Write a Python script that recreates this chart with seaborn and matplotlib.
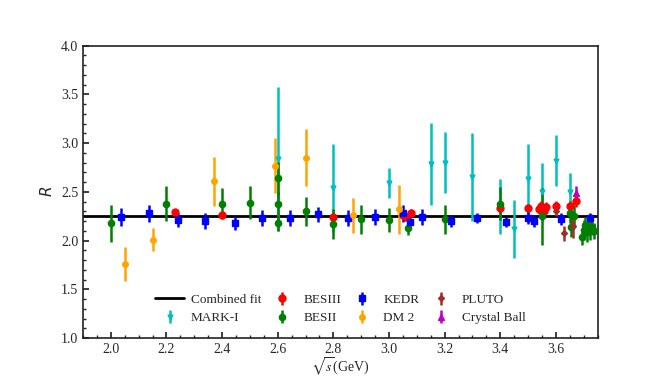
import matplotlib
matplotlib.use("Agg")
import matplotlib.pyplot as plt
from matplotlib.ticker import MultipleLocator
import seaborn as sns

# ── Data ──────────────────────────────────────────────────────────────────────
fit_R = 2.255

markI_x = [2.60, 2.80, 3.00, 3.15, 3.20, 3.30, 3.40, 3.45, 3.50, 3.55, 3.60, 3.65]
markI_y = [2.84, 2.54, 2.59, 2.79, 2.80, 2.65, 2.35, 2.12, 2.63, 2.50, 2.82, 2.50]
markI_e = [0.74, 0.45, 0.15, 0.42, 0.31, 0.45, 0.28, 0.30, 0.36, 0.30, 0.26, 0.19]

besiii_x = [2.232, 2.40, 2.80, 3.05, 3.06, 3.08, 3.40, 3.50, 3.54, 3.548, 3.556, 3.566, 3.60, 3.65, 3.671]
besiii_y = [2.29, 2.26, 2.24, 2.26, 2.24, 2.28, 2.33, 2.33, 2.32, 2.36, 2.30, 2.35, 2.36, 2.36, 2.41]
besiii_e = [0.03, 0.03, 0.03, 0.04, 0.04, 0.04, 0.04, 0.05, 0.05, 0.05, 0.05, 0.05, 0.05, 0.05, 0.06]

besii_x = [2.00, 2.20, 2.40, 2.50, 2.60, 2.60, 2.60, 2.70, 2.80, 2.90, 3.00, 3.07, 3.20,
           3.40, 3.55, 3.65, 3.656, 3.665, 3.694, 3.70, 3.706, 3.712, 3.718, 3.724, 3.73, 3.736]
besii_y = [2.18, 2.38, 2.38, 2.39, 2.64, 2.38, 2.18, 2.30, 2.17, 2.22, 2.21, 2.13, 2.22,
           2.38, 2.25, 2.28, 2.14, 2.25, 2.04, 2.11, 2.16, 2.09, 2.16, 2.11, 2.14, 2.10]
besii_e = [0.19, 0.18, 0.16, 0.17, 0.17, 0.12, 0.08, 0.15, 0.15, 0.15, 0.12, 0.07, 0.15,
           0.17, 0.29, 0.10, 0.10, 0.12, 0.08, 0.10, 0.08, 0.10, 0.08, 0.10, 0.08, 0.08]

kedr_x = [2.037, 2.136, 2.24, 2.34, 2.446, 2.543, 2.645, 2.745, 2.851, 2.949,
          3.05, 3.077, 3.12, 3.224, 3.316, 3.419, 3.50, 3.523, 3.619, 3.721]
kedr_y = [2.245, 2.28, 2.21, 2.20, 2.18, 2.23, 2.23, 2.27, 2.235, 2.24,
          2.28, 2.19, 2.245, 2.20, 2.23, 2.19, 2.23, 2.20, 2.22, 2.23]
kedr_e = [0.09, 0.09, 0.07, 0.08, 0.07, 0.08, 0.08, 0.08, 0.08, 0.08,
          0.085, 0.07, 0.08, 0.06, 0.05, 0.05, 0.06, 0.06, 0.06, 0.05]

dm2_x = [2.05, 2.15, 2.37, 2.59, 2.70, 2.87, 3.036]
dm2_y = [1.76, 2.01, 2.61, 2.77, 2.85, 2.26, 2.32]
dm2_e = [0.17, 0.12, 0.25, 0.28, 0.29, 0.18, 0.25]

pluto_x = [3.60, 3.631, 3.66]
pluto_y = [2.30, 2.075, 2.15]
pluto_e = [0.05, 0.08, 0.12]

cb_x = [3.671]
cb_y = [2.49]
cb_e = [0.07]

# ── Style ─────────────────────────────────────────────────────────────────────
sns.set_theme(style="ticks")
plt.rcParams["font.family"] = ["Liberation Serif", "DejaVu Serif"]
plt.rcParams.update({
    "xtick.direction": "in", "ytick.direction": "in",
    "xtick.major.size": 4, "ytick.major.size": 4,
    "xtick.minor.size": 2.5, "ytick.minor.size": 2.5,
    "xtick.minor.visible": True, "ytick.minor.visible": True,
    "axes.edgecolor": "#222222", "axes.linewidth": 1.2,
})

fig, ax = plt.subplots(figsize=(6.64, 3.8), dpi=100)

fit_line = ax.axhline(fit_R, color="black", linewidth=2, label="Combined fit", zorder=1)

series = [
    ("MARK-I", markI_x, markI_y, markI_e, "#00BFBF", "v", 3.5),
    ("BESIII", besiii_x, besiii_y, besiii_e, "#FF0000", "o", 5),
    ("BESII", besii_x, besii_y, besii_e, "#008000", "o", 4.5),
    ("KEDR", kedr_x, kedr_y, kedr_e, "#0000FF", "s", 4.5),
    ("DM 2", dm2_x, dm2_y, dm2_e, "#FFA500", "o", 4),
    ("PLUTO", pluto_x, pluto_y, pluto_e, "#A52A2A", "D", 3),
    ("Crystal Ball", cb_x, cb_y, cb_e, "#BF00BF", "^", 5),
]
handles = {}
for name, xs, ys, es, col, mk, ms in series:
    h = ax.errorbar(xs, ys, yerr=es, fmt=mk, color=col, ecolor=col, markersize=ms,
                    elinewidth=1.8, capsize=0, label=name, zorder=3)
    handles[name] = h

order = ["MARK-I", "BESIII", "BESII", "KEDR", "DM 2", "PLUTO", "Crystal Ball"]
ax.legend([fit_line] + [handles[n] for n in order], ["Combined fit"] + order,
          ncol=4, loc="lower center", bbox_to_anchor=(0.5, 0.007), frameon=False,
          fontsize=9.5, handlelength=2.2, handletextpad=0.5, columnspacing=0.5,
          labelspacing=0.45)

ax.set_xlim(1.9, 3.75)
ax.set_ylim(1.0, 4.0)
ax.xaxis.set_major_locator(MultipleLocator(0.2))
ax.xaxis.set_minor_locator(MultipleLocator(0.05))
ax.yaxis.set_major_locator(MultipleLocator(0.5))
ax.yaxis.set_minor_locator(MultipleLocator(0.1))
ax.tick_params(which="both", top=False, right=False, labelsize=10)

ax.set_xlabel(r"$\sqrt{s}$(GeV)", fontsize=10, labelpad=0, math_fontfamily="stix")
ax.set_ylabel(r"$R$", fontsize=11)

fig.savefig("out.png", dpi=100)
